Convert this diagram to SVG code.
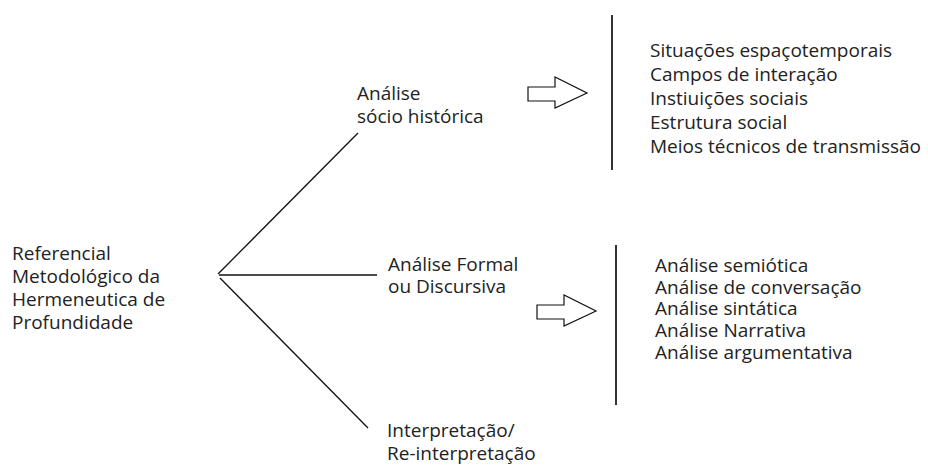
<svg xmlns="http://www.w3.org/2000/svg" width="928" height="465" viewBox="0 0 928 465">
<style>
  text { font-family: "Open Sans", "DejaVu Sans", sans-serif; font-size: 19px; fill: #222; }
  .ln { stroke: #111; stroke-width: 1.3; fill: none; }
  .bar { stroke: #333; stroke-width: 2; fill: none; }
  .arrow { fill: #fff; stroke: #111; stroke-width: 1.2; }
</style>
<defs>
  <path id="bigArrow" d="M0,10 H27 V0 L59,16 L27,31 V24 H0 Z"/>
</defs>
<rect width="928" height="465" fill="#fff"/>
<g id="connectors">
  <line class="ln" x1="218" y1="274" x2="358" y2="133"/>
  <line class="ln" x1="219" y1="275" x2="377" y2="275"/>
  <line class="ln" x1="220" y1="278" x2="368" y2="428"/>
</g>
<g id="root">
  <text x="12" y="260">Referencial</text>
  <text x="12" y="283">Metodológico da</text>
  <text x="12" y="306">Hermeneutica de</text>
  <text x="12" y="329">Profundidade</text>
</g>
<g id="socio">
  <text x="357" y="100">Análise</text>
  <text x="357" y="123">sócio histórica</text>
</g>
<g id="formal">
  <text x="388" y="271">Análise Formal</text>
  <text x="388" y="293">ou Discursiva</text>
</g>
<g id="interp">
  <text x="387" y="437">Interpretação/</text>
  <text x="387" y="460">Re-interpretação</text>
</g>
<g id="arrow1">
  <use href="#bigArrow" class="arrow" x="528" y="77"/>
</g>
<g id="arrow2">
  <use href="#bigArrow" class="arrow" x="537" y="295"/>
</g>
<g id="list1">
  <line class="bar" x1="612" y1="15" x2="612" y2="170"/>
  <text x="650" y="57">Situações espaçotemporais</text>
  <text x="650" y="81">Campos de interação</text>
  <text x="650" y="105">Instiuições sociais</text>
  <text x="650" y="129">Estrutura social</text>
  <text x="650" y="153">Meios técnicos de transmissão</text>
</g>
<g id="list2">
  <line class="bar" x1="616" y1="245" x2="616" y2="405"/>
  <text x="655" y="272">Análise semiótica</text>
  <text x="655" y="294">Análise de conversação</text>
  <text x="655" y="315">Análise sintática</text>
  <text x="655" y="337">Análise Narrativa</text>
  <text x="655" y="359">Análise argumentativa</text>
</g>
</svg>
